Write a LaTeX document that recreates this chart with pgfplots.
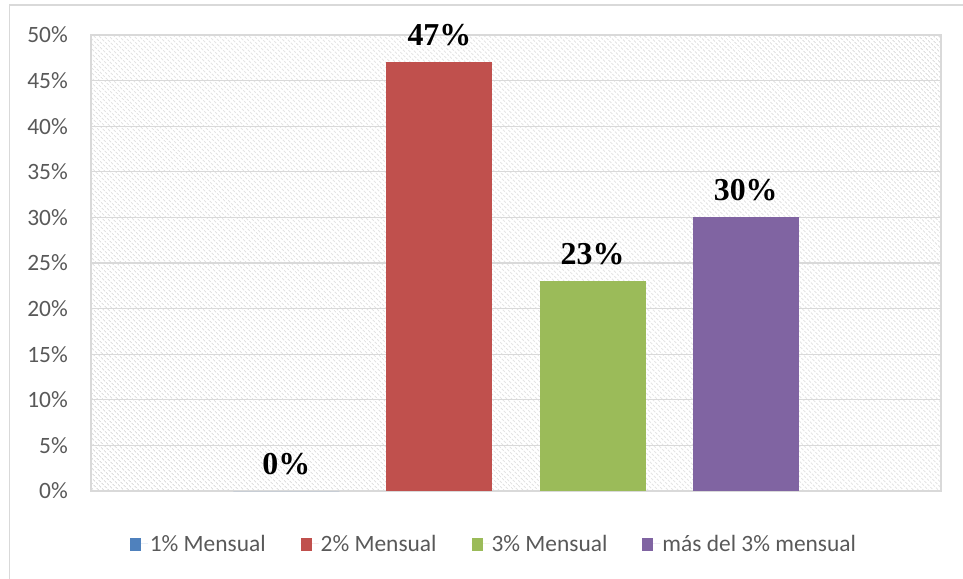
\documentclass[border=0pt]{standalone}
\usepackage{pgfplots}
\pgfplotsset{compat=1.18}
\usetikzlibrary{patterns.meta}
\usepackage{fontspec}
\setmainfont{Carlito}
\newfontfamily\tnr{Liberation Serif}
\definecolor{cblue}{HTML}{4F81BD}
\definecolor{cred}{HTML}{C0504D}
\definecolor{cgreen}{HTML}{9BBB59}
\definecolor{cpurple}{HTML}{8064A2}
\definecolor{ctick}{HTML}{595959}
\definecolor{cgrid}{HTML}{D9D9D9}
\definecolor{chatch}{HTML}{CCCCCC}
\begin{document}
\begin{tikzpicture}
\useasboundingbox (0bp,0bp) rectangle (963bp,579bp);
\draw[cgrid, line width=1.5bp] (9.5bp,0bp) -- (9.5bp,574bp) -- (963bp,574bp);
\begin{axis}[
  at={(91bp,88bp)}, anchor=south west,
  scale only axis, width=850bp, height=456bp,
  /pgf/number format/assume math mode=true,
  axis background/.style={pattern={Lines[angle=-45,distance=3.6bp,line width=0.9bp]}, pattern color=chatch},
  axis line style={cgrid, line width=1.2bp},
  ymin=0, ymax=50, ytick={0,5,...,50},
  ymajorgrids, grid style={cgrid, line width=1.2bp},
  major tick length=0pt,
  yticklabel={\pgfmathprintnumber{\tick}\%},
  yticklabel style={inner sep=0pt, xshift=-23bp, font=\fontsize{23.5}{28}\selectfont, text=ctick},
  xmin=-1.275, xmax=4.275, xtick=\empty,
  ybar, bar width=106bp, bar shift=0pt,
  nodes near coords={\pgfmathprintnumber{\pgfplotspointmeta}\%},
  every node near coord/.append style={anchor=base, yshift=17bp, font=\tnr\bfseries\fontsize{32}{36}\selectfont, text=black, inner sep=0pt},
  legend columns=4,
  legend style={at={(0.474,-0.116)}, anchor=center, draw=none, fill=none,
    font=\fontsize{23.5}{28}\selectfont, text=ctick,
    /tikz/every even column/.append style={column sep=33bp}},
  legend image code/.code={\fill[#1,draw=none] (0bp,-7bp) rectangle (11bp,6bp); \path (0bp,0bp) -- (18bp,0bp);},
  clip=false,
]
\addplot[fill=cblue, draw=none] coordinates {(0,0)};
\addplot[fill=cred, draw=none] coordinates {(1,47)};
\addplot[fill=cgreen, draw=none] coordinates {(2,23)};
\addplot[fill=cpurple, draw=none] coordinates {(3,30)};
\legend{1\% Mensual, 2\% Mensual, 3\% Mensual, más del 3\% mensual}
\end{axis}
\end{tikzpicture}
\end{document}
